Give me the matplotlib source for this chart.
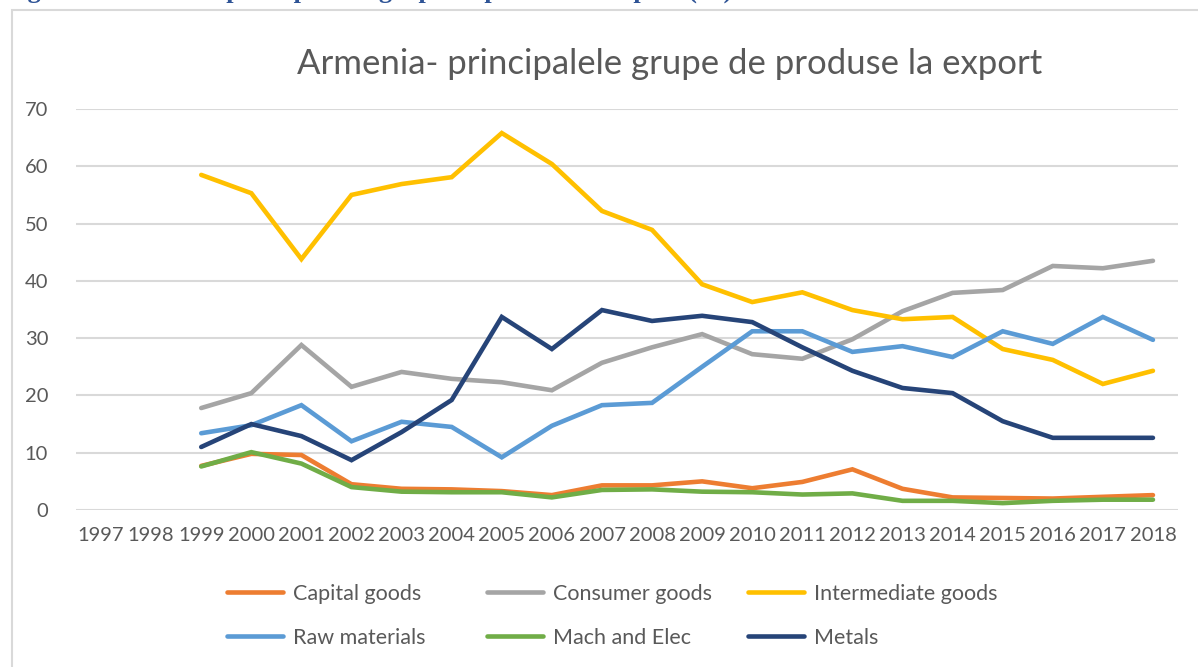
import numpy as np
import matplotlib.pyplot as plt
from matplotlib.patches import Rectangle

plt.rcParams['font.family'] = ['Lato', 'DejaVu Sans']

years = [str(y) for y in range(1997, 2019)]

# values for 1999..2018 (1997, 1998 are empty)
capital = [7.7, 9.8, 9.6, 4.5, 3.7, 3.6, 3.3, 2.6, 4.3, 4.3,
           5.0, 3.8, 4.9, 7.1, 3.7, 2.2, 2.1, 2.0, 2.3, 2.6]
consumer = [17.8, 20.4, 28.8, 21.5, 24.1, 22.9, 22.3, 20.9, 25.7, 28.4,
            30.7, 27.2, 26.4, 29.8, 34.7, 37.9, 38.4, 42.6, 42.2, 43.5]
intermediate = [58.5, 55.3, 43.8, 55.0, 56.9, 58.1, 65.8, 60.4, 52.2, 48.9,
                39.4, 36.3, 38.0, 34.9, 33.3, 33.7, 28.1, 26.2, 22.0, 24.3]
raw = [13.4, 14.8, 18.3, 12.0, 15.4, 14.5, 9.2, 14.7, 18.3, 18.7,
       25.0, 31.2, 31.2, 27.6, 28.6, 26.7, 31.2, 29.0, 33.7, 29.7]
mach = [7.6, 10.1, 8.1, 4.0, 3.2, 3.1, 3.1, 2.2, 3.5, 3.6,
        3.2, 3.1, 2.7, 2.9, 1.6, 1.6, 1.2, 1.6, 1.8, 1.8]
metals = [11.0, 15.0, 12.9, 8.7, 13.6, 19.2, 33.7, 28.1, 34.9, 33.0,
          33.9, 32.8, 28.4, 24.3, 21.3, 20.4, 15.5, 12.6, 12.6, 12.6]

series = [("Capital goods", capital, "#ED7D31"),
          ("Consumer goods", consumer, "#A5A5A5"),
          ("Intermediate goods", intermediate, "#FFC000"),
          ("Raw materials", raw, "#5B9BD5"),
          ("Mach and Elec", mach, "#70AD47"),
          ("Metals", metals, "#264478")]

W, H = 1198, 667
fig = plt.figure(figsize=(W / 100, H / 100), dpi=100)
ax = fig.add_axes([76 / W, 1 - 510 / H, 1102 / W, 401 / H])

x = np.arange(2, len(years))
lines = []
for name, vals, col in series:
    ln, = ax.plot(x, vals, color=col, lw=3.3, solid_capstyle='round',
                  solid_joinstyle='miter', label=name)
    lines.append(ln)

ax.set_xlim(-0.5, len(years) - 0.5)
ax.set_ylim(0, 70)
ax.set_xticks(np.arange(len(years)))
ax.set_xticklabels(years)
ax.set_yticks(range(0, 71, 10))
ax.grid(axis='y', color='#d9d9d9', lw=1.5)
ax.set_axisbelow(True)
for s in ax.spines.values():
    s.set_visible(False)
ax.tick_params(length=0, labelsize=14.5, colors='#595959')
ax.tick_params(axis='x', pad=12)
ax.tick_params(axis='y', pad=20)

fig.text(670 / W, 1 - 64 / H, "Armenia- principalele grupe de produse la export",
         ha='center', va='center', fontsize=25, color='#595959')

# caption of the document, cut off at the top
fig.text(4 / W, 1 + 2 / H,
         "Figura 3. Ponderea principalelor grupe de produse la export (%)",
         ha='left', va='baseline', fontsize=19, fontweight='bold',
         color='#2F5496', family='Liberation Serif')

# chart frame
fig.patches.append(Rectangle((12 / W, -0.1), 2, (H - 10) / H + 0.1,
                             transform=fig.transFigure, fill=False,
                             edgecolor='#d9d9d9', lw=1.5))

col_x = [227, 487, 748]
row_y = [594, 638]
for i, ln in enumerate(lines):
    r, c = divmod(i, 3)
    fig.legend([ln], [ln.get_label()], loc='center left',
               bbox_to_anchor=(col_x[c] / W, 1 - row_y[r] / H),
               frameon=False, borderpad=0, borderaxespad=0,
               handlelength=2.6, handletextpad=0.45, fontsize=15.5,
               labelcolor='#595959')

fig.savefig("out.png", dpi=100)
